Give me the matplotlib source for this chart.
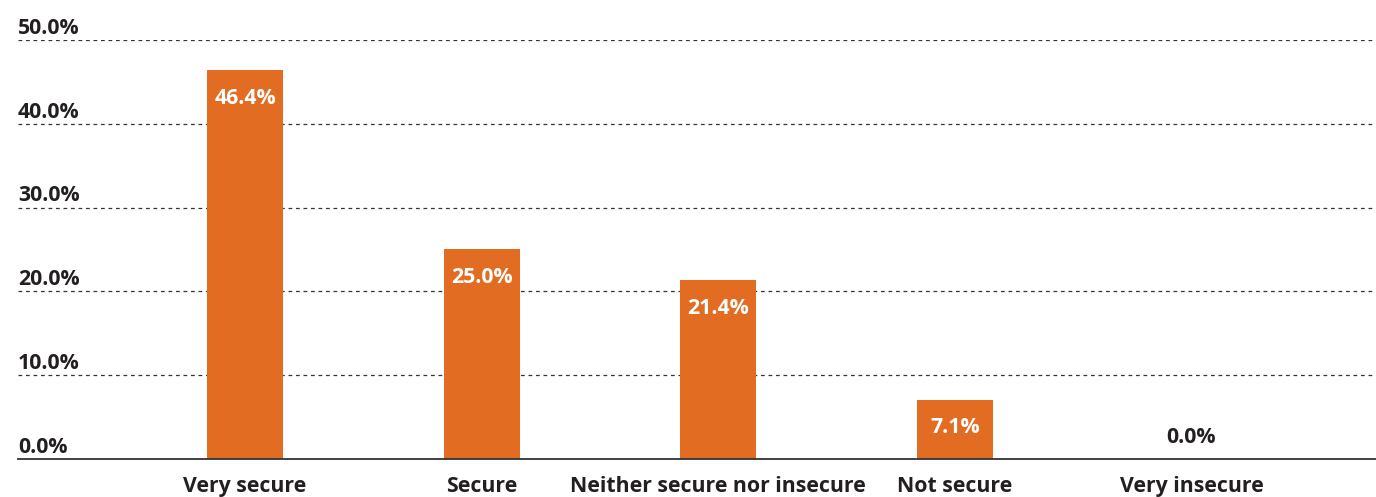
import matplotlib.pyplot as plt
import matplotlib.transforms as mtransforms

categories = ['Very secure', 'Secure', 'Neither secure nor insecure', 'Not secure', 'Very insecure']
values = [46.4, 25.0, 21.4, 7.1, 0.0]
yticks = [0, 10, 20, 30, 40, 50]

bar_color = '#E26C22'
text_color = '#231F20'

plt.rcParams['font.family'] = ['Open Sans', 'DejaVu Sans']
fs = 15.3

fig = plt.figure(figsize=(13.76, 4.97), dpi=100)
ax = fig.add_axes([18 / 1376, 1 - 459 / 497, 1 - 18 / 1376, (459 - 40) / 497])

x = list(range(len(categories)))
bars = ax.bar(x, values, width=0.32, color=bar_color, zorder=3)

ax.set_ylim(0, 50)
ax.set_xlim(-0.96, 4.78)

# dashed grid, labels sit above lines at left
ax.set_yticks(yticks)
ax.yaxis.grid(True, linestyle=(0, (3, 3)), color='#333333', linewidth=0.9, zorder=0)
ax.tick_params(axis='y', length=0, labelleft=False)
trans = mtransforms.blended_transform_factory(ax.transAxes, ax.transData)
for t in yticks:
    ax.text(0, t + 0.15, '%.1f%%' % t, transform=trans, ha='left', va='bottom',
            fontsize=fs, fontweight='bold', color=text_color)

ax.set_xticks(x)
ax.set_xticklabels(categories, fontsize=fs, fontweight='bold', color=text_color)
ax.tick_params(axis='x', length=0, pad=12)

for side in ['top', 'right', 'left']:
    ax.spines[side].set_visible(False)
ax.spines['bottom'].set_color('#333333')
ax.spines['bottom'].set_linewidth(1.3)
ax.spines['bottom'].set_zorder(4)

# value labels
for xi, v in zip(x, values):
    if v > 3:
        ax.text(xi, v - 3.4, '%.1f%%' % v, ha='center', va='center', fontsize=fs,
                fontweight='bold', color='white', zorder=5)
    else:
        ax.text(xi, v + 2.6, '%.1f%%' % v, ha='center', va='center', fontsize=fs,
                fontweight='bold', color=text_color, zorder=5)

fig.savefig('out.png', dpi=100)
